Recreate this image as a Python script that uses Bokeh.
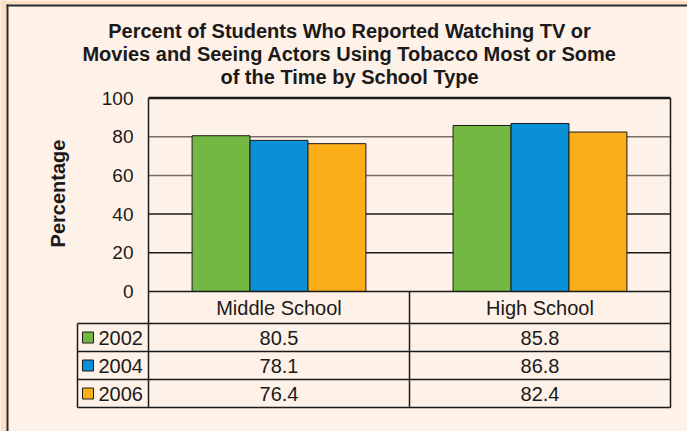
import math
from bokeh.plotting import figure
from bokeh.models import Range1d, LinearAxis, FixedTicker, Label
from bokeh.embed import file_html
from bokeh.resources import INLINE
from bokeh.core.properties import value

# ---------------- data ----------------
categories = ["Middle School", "High School"]
years = ["2002", "2004", "2006"]
pct_2002 = [80.5, 85.8]
pct_2004 = [78.1, 86.8]
pct_2006 = [76.4, 82.4]
y_ticks = [0, 20, 40, 60, 80, 100]
title_lines = [
    "Percent of Students Who Reported Watching TV or",
    "Movies and Seeing Actors Using Tobacco Most or Some",
    "of the Time by School Type",
]
y_label = "Percentage"

series = [pct_2002, pct_2004, pct_2006]

# ---------------- layout / style ----------------
W, H = 687, 431
X0_PX, CAT_PX = 148.0, 261.0      # pixel position of x=0 and width of a category
Y0_PX, UNIT_PX = 291.0, 1.935     # pixel position of y=0 and pixels per percent


def dx(px):
    return (px - X0_PX) / CAT_PX


def dy(py):
    return (Y0_PX - py) / UNIT_PX


BG = "#FEF1E8"
EDGE = "#FDDFC2"
INK = "#1a1a1a"
FONT = "Liberation Sans"
colors = ["#72b843", "#0a90d6", "#fbae18"]
grid_colors = ["#1a1a1a", "#1a1a1a", "#76706b", "#76706b"]
bar_w = 0.222
n = len(categories)
row_edges = [dy(py) for py in (291, 323, 351, 379, 407)]
col_left = dx(77)
table_bottom = row_edges[-1]

p = figure(width=W, height=H, output_backend="svg", toolbar_location=None,
           x_range=Range1d(dx(0), dx(W)), y_range=Range1d(dy(H), dy(0)),
           x_axis_location=None, y_axis_location=None,
           min_border_left=0, min_border_right=0, min_border_top=0, min_border_bottom=0,
           background_fill_color=BG, border_fill_color=BG, outline_line_color=None)
p.grid.visible = False

# decorative page edge (peach strip and dark panel border)
p.quad(left=[dx(0), dx(0)], right=[dx(6), dx(W)], top=[dy(0), dy(0)], bottom=[dy(H), dy(4)],
       fill_color=EDGE, line_color=None)
p.quad(left=[dx(6), dx(6)], right=[dx(8), dx(W)], top=[dy(4), dy(4)], bottom=[dy(H), dy(6)],
       fill_color="#2a2a2a", line_color=None)

# y axis drawn at the left edge of the chart area (x = 0)
yax = LinearAxis(fixed_location=0, ticker=FixedTicker(ticks=y_ticks),
                 axis_line_color=None, major_tick_line_color=None,
                 minor_tick_line_color=None, major_tick_in=0, major_tick_out=0,
                 major_label_standoff=15,
                 major_label_text_font=FONT, major_label_text_font_size="19px",
                 major_label_text_color=INK)
p.add_layout(yax, "left")

# grid lines
gy = y_ticks[1:-1]
p.segment(x0=[0] * len(gy), y0=gy, x1=[n] * len(gy), y1=gy,
          line_color=grid_colors, line_width=1.5)

# bars
for j, vals in enumerate(series):
    xs = [i + 0.5 + (j - 1) * bar_w for i in range(n)]
    p.vbar(x=xs, top=vals, bottom=0, width=bar_w, fill_color=colors[j],
           line_color=INK, line_width=1)

# frame / table lines
p.segment(x0=[0], y0=[y_ticks[-1]], x1=[n], y1=[y_ticks[-1]], line_color=INK, line_width=2.5)
p.segment(x0=[0], y0=[0], x1=[n], y1=[0], line_color=INK, line_width=1.5)
hy = row_edges[1:]
p.segment(x0=[col_left] * len(hy), y0=hy, x1=[n] * len(hy), y1=hy,
          line_color=INK, line_width=1.5)
vx0 = [0, n] + list(range(1, n))
vy_top = [y_ticks[-1], y_ticks[-1]] + [0] * (n - 1)
p.segment(x0=vx0, y0=vy_top, x1=vx0, y1=[table_bottom] * len(vx0),
          line_color=INK, line_width=1.5)
p.segment(x0=[col_left], y0=[row_edges[1]], x1=[col_left], y1=[table_bottom],
          line_color=INK, line_width=1.5)

# header: categories
header_y = (row_edges[0] + row_edges[1]) / 2
p.text(x=[i + 0.5 for i in range(n)], y=[header_y] * n, text=categories,
       text_align="center", text_baseline="middle", text_color=INK,
       text_font=value(FONT), text_font_size="20px")

# rows of values
row_y = [(row_edges[k] + row_edges[k + 1]) / 2 for k in range(1, len(row_edges) - 1)]
for j, vals in enumerate(series):
    p.text(x=[i + 0.5 for i in range(n)], y=[row_y[j]] * n,
           text=[f"{v:.1f}" for v in vals],
           text_align="center", text_baseline="middle", text_color=INK,
           text_font=value(FONT), text_font_size="20px")

# row labels with colour keys
p.rect(x=[dx(87.5)] * len(years), y=row_y, width=11, height=11,
       width_units="screen", height_units="screen",
       fill_color=colors, line_color=INK, line_width=1)
p.text(x=[dx(98)] * len(years), y=row_y, text=years,
       text_align="left", text_baseline="middle", text_color=INK,
       text_font=value(FONT), text_font_size="20px")

# title
for txt, py in zip(title_lines, [30.5, 53.5, 76.5]):
    p.add_layout(Label(x=dx(349), y=dy(py), text=txt, text_align="center",
                       text_baseline="middle", text_font=FONT,
                       text_font_size="20px", text_font_style="bold",
                       text_color=INK))

# y label
p.add_layout(Label(x=dx(57), y=dy(193), text=y_label, angle=math.pi / 2,
                   text_align="center", text_baseline="middle", text_font=FONT,
                   text_font_size="20px", text_font_style="bold", text_color=INK))

open("out.html", "w").write(file_html(p, INLINE))
